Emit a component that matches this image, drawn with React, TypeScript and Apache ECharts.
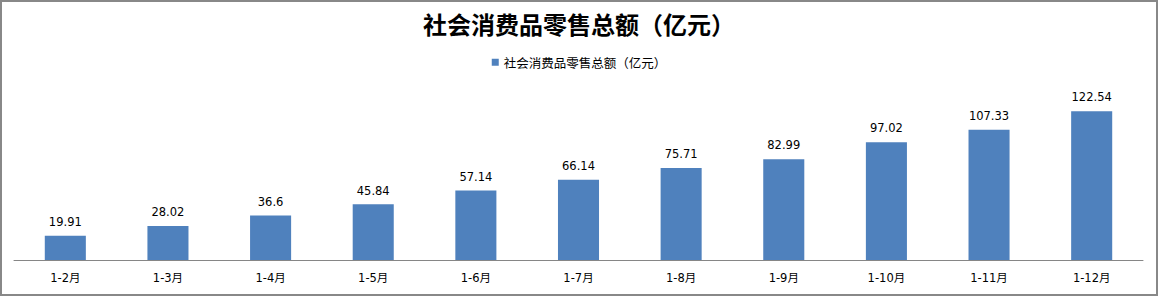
import React, { useEffect, useRef } from "react";
import * as echarts from "echarts";

const categories = ["1-2月", "1-3月", "1-4月", "1-5月", "1-6月", "1-7月", "1-8月", "1-9月", "1-10月", "1-11月", "1-12月"];
const values = [19.91, 28.02, 36.6, 45.84, 57.14, 66.14, 75.71, 82.99, 97.02, 107.33, 122.54];
const seriesName = "社会消费品零售总额（亿元）";
const titleText = "社会消费品零售总额（亿元）";

export default function App() {
  const ref = useRef<HTMLDivElement>(null);
  useEffect(() => {
    document.body.style.margin = "0";
    const chart = echarts.init(ref.current!, null, { renderer: "svg" });
    chart.setOption({
      animation: false,
      backgroundColor: "#fff",
      textStyle: { fontFamily: "'DejaVu Sans', 'Noto Sans CJK SC', sans-serif" },
      title: {
        text: titleText,
        left: "center",
        top: 6,
        textStyle: {
          fontSize: 24,
          fontWeight: "bold",
          color: "#000",
          fontFamily: "'Noto Sans CJK SC', serif",
        },
      },
      legend: {
        top: 51,
        left: "center",
        icon: "rect",
        itemWidth: 7,
        itemHeight: 7,
        itemGap: 5,
        textStyle: { fontSize: 12.5, color: "#000", fontFamily: "'Noto Sans CJK SC', sans-serif" },
        data: [seriesName],
      },
      grid: { left: 14, right: 15, top: 90, bottom: 36, containLabel: false },
      xAxis: {
        type: "category",
        data: categories,
        axisLine: { lineStyle: { color: "#868686", width: 1 } },
        axisTick: { show: false },
        axisLabel: { fontSize: 11.5, color: "#000", margin: 12 },
      },
      yAxis: {
        type: "value",
        min: 0,
        max: 140,
        show: false,
        splitLine: { show: false },
      },
      series: [
        {
          name: seriesName,
          type: "bar",
          data: values,
          barWidth: "40%",
          itemStyle: { color: "#4F81BD" },
          label: {
            show: true,
            position: "top",
            distance: 8,
            fontSize: 11.5,
            color: "#000",
          },
        },
      ],
    });
    return () => chart.dispose();
  }, []);
  return (
    <div
      style={{
        position: "relative",
        width: 1158,
        height: 296,
        boxSizing: "border-box",
        border: "2px solid #888",
        overflow: "hidden",
      }}
    >
      <div ref={ref} style={{ position: "absolute", left: -2, top: -2, width: 1158, height: 296 }} />
    </div>
  );
}
